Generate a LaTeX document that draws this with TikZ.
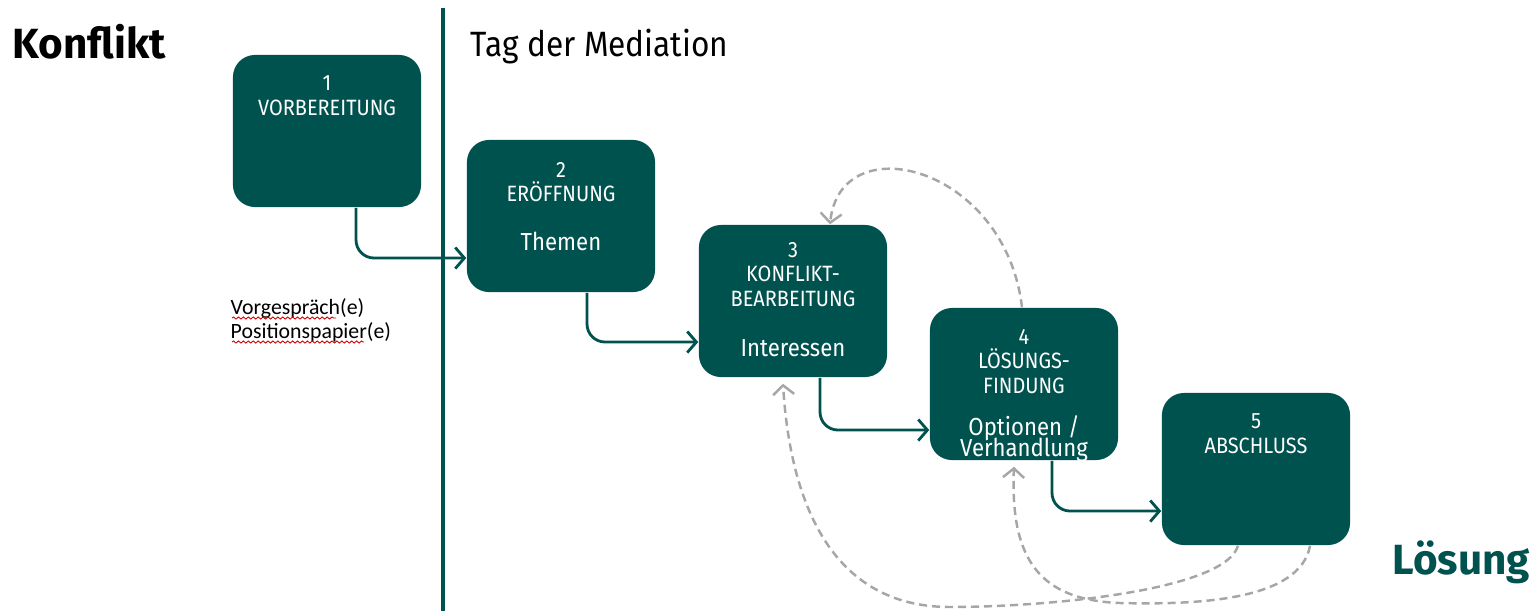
\documentclass[tikz,border=0pt]{standalone}
\usepackage{fontspec}
\setmainfont[FakeStretch=0.9]{Fira Sans}
\newfontfamily\headfamily{Fira Sans}
\newfontfamily\notefont{Carlito}
\usetikzlibrary{arrows.meta}
\usetikzlibrary{positioning}
\usetikzlibrary{decorations.pathmorphing}
\definecolor{mtgreen}{HTML}{00524F}
\definecolor{backgray}{HTML}{A6A6A6}
\newcommand\keyfont{\fontsize{7}{6.6}\selectfont}
\newcommand\headfont{\headfamily\fontsize{12}{14}\selectfont\bfseries}
\tikzset{
  phase/.style = {fill=mtgreen, rounded corners=0.22cm, minimum width=1.88cm, minimum height=1.52cm, inner sep=0pt},
  phase text/.style = {text=white, align=center, anchor=north, inner sep=0pt, font=\fontsize{6.3}{7.1}\selectfont},
  flow arrow/.style = {draw=mtgreen, line width=.8pt, rounded corners=0.18cm, -{Straight Barb[length=2.6pt,width=6pt]}},
  back arrow/.style = {draw=backgray, line width=.7pt, dash pattern=on 2.3pt off 1.4pt, -{Straight Barb[length=2.6pt,width=6pt]}},
  spell/.style = {draw=red!80!black, line width=.25pt, decorate, decoration={snake, amplitude=.3pt, segment length=1.4pt}}
}

\begin{document}
\begin{tikzpicture}[x=0.01cm, y=-0.01cm]
\useasboundingbox (0,0) rectangle (1536,611);

\draw[mtgreen, line width=1pt] (443,8) -- (443,611);

\node[anchor=base west, inner sep=0pt] (konflikt) at (12,58) {\headfont Konflikt};
\node[anchor=base west, inner sep=0pt, font=\fontsize{10}{12}\selectfont] (tag) at (470,56) {Tag der Mediation};
\node[anchor=base west, inner sep=0pt, text=mtgreen] (loesung) at (1392,574) {\headfont Lösung};

\node[phase] (p1) at (327,131) {};
\node[phase] (p2) at (561,216) {};
\node[phase] (p3) at (793,301) {};
\node[phase] (p4) at (1024,384) {};
\node[phase] (p5) at (1256,469) {};

\node[phase text] (t1) at ([yshift=-0.21cm]p1.north) {1\\VORBEREITUNG};
\node[phase text] (t2) at ([yshift=-0.22cm]p2.north) {2\\ERÖFFNUNG\\[6.7pt]{\keyfont Themen}};
\node[phase text] (t3) at ([yshift=-0.17cm]p3.north) {3\\KONFLIKT-\\BEARBEITUNG\\[7pt]{\keyfont Interessen}};
\node[phase text] (t4) at ([yshift=-0.21cm]p4.north) {4\\LÖSUNGS-\\FINDUNG\\[4.6pt]{\keyfont Optionen /}\\[-1pt]{\keyfont Verhandlung}};
\node[phase text] (t5) at ([yshift=-0.21cm]p5.north) {5\\ABSCHLUSS};

\node[anchor=base west, inner sep=0pt, align=left, font=\notefont\fontsize{6.2}{6.8}\selectfont] (prep) at (230,338) {Vorgespräch(e)\\Positionspapier(e)};
\draw[spell] (232,318) -- (336,318);
\draw[spell] (232,342) -- (364,342);

\draw[flow arrow] ([xshift=0.29cm]p1.south) |- ([yshift=-0.42cm]p2.west);
\draw[flow arrow] ([xshift=0.26cm]p2.south) |- ([yshift=-0.41cm]p3.west);
\draw[flow arrow] ([xshift=0.27cm]p3.south) |- ([yshift=-0.46cm]p4.west);
\draw[flow arrow] ([xshift=0.28cm]p4.south) |- ([yshift=-0.42cm]p5.west);

\draw[back arrow] ([xshift=-0.02cm]p4.north) .. controls (1005,165) and (840,125) .. ([xshift=0.37cm]p3.north);
\draw[back arrow] ([xshift=-0.18cm]p5.south) .. controls (1225,590) and (1050,607) .. (950,607) .. controls (830,607) and (790,500) .. ([xshift=-0.1cm,yshift=-0.06cm]p3.south);
\draw[back arrow] ([xshift=0.54cm]p5.south) .. controls (1300,600) and (1200,605) .. (1120,603) .. controls (1040,600) and (1010,560) .. ([xshift=-0.1cm,yshift=-0.06cm]p4.south);
\end{tikzpicture}
\end{document}
